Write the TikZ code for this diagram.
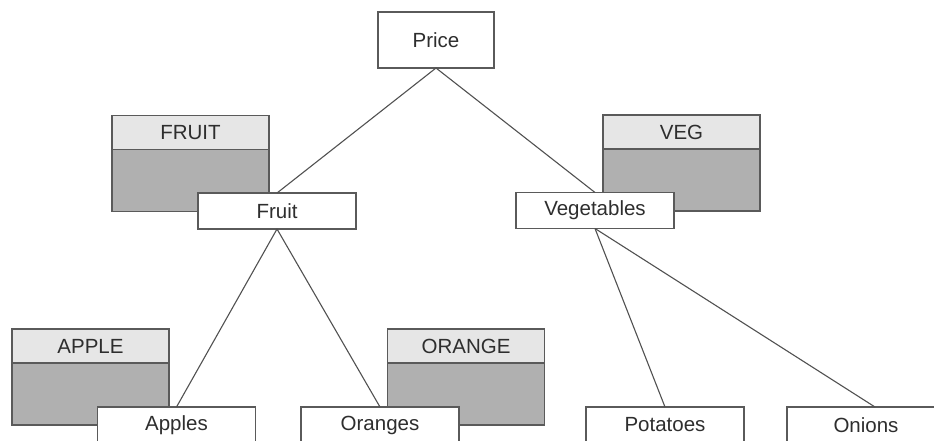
\documentclass[tikz,border=0pt]{standalone}
\usepackage{fontspec}
\setmainfont{Liberation Sans}
\usepackage{xcolor}
\usepackage{tikz}
\usetikzlibrary{positioning}
\definecolor{edgegray}{HTML}{5A5A5A}
\definecolor{textgray}{HTML}{2E2E2E}
\definecolor{headfill}{HTML}{E6E6E6}
\definecolor{bodyfill}{HTML}{B0B0B0}

\begin{document}
\begin{tikzpicture}[x=1pt, y=-1pt, line width=1.3pt,
    every node/.style={font=\fontsize{20.5}{24}\selectfont, text=textgray},
    itembox/.style={draw=edgegray, fill=white, inner sep=0pt, outer sep=0pt, minimum width=158pt, minimum height=36pt},
    tablehead/.style={draw=edgegray, fill=headfill, inner sep=0pt, outer sep=0pt, minimum width=157pt, minimum height=34pt},
    tablebody/.style={draw=edgegray, fill=bodyfill, inner sep=0pt, outer sep=0pt, minimum width=157pt, minimum height=62pt},
    link/.style={draw=edgegray!90!black, line width=1.1pt}]
    \useasboundingbox (0,0) rectangle (934,440);

    % Tables behind the items
    \node[tablehead] (fruithead) at (190.5,132.5) {FRUIT};
    \node[tablebody, below=0pt of fruithead] (fruitbody) {};
    \node[tablehead] (veghead) at (681.5,132) {VEG};
    \node[tablebody, below=0pt of veghead] (vegbody) {};
    \node[tablehead] (applehead) at (90.5,346) {APPLE};
    \node[tablebody, below=0pt of applehead] (applebody) {};
    \node[tablehead] (orangehead) at (466,346) {ORANGE};
    \node[tablebody, below=0pt of orangehead] (orangebody) {};

    % Tree
    \node[itembox, minimum width=116pt, minimum height=56pt] (price) at (436,40) {Price};
    \node[itembox] (fruit) at (277,211) {Fruit};
    \node[itembox] (veg) at (595,210.5) {Vegetables};
    \node[itembox] (apples) at (176.5,425) {Apples};
    \node[itembox] (oranges) at (380,425) {Oranges};
    \node[itembox] (potatoes) at (665,425) {Potatoes};
    \node[itembox] (onions) at (866,425) {Onions};

    \draw[link] (price.south) -- (fruit.north);
    \draw[link] (price.south) -- (veg.north);
    \draw[link] (fruit.south) -- (apples.north);
    \draw[link] (fruit.south) -- (oranges.north);
    \draw[link] (veg.south) -- (potatoes.north);
    \draw[link] (veg.south) -- ([xshift=9pt]onions.north);
\end{tikzpicture}
\end{document}
